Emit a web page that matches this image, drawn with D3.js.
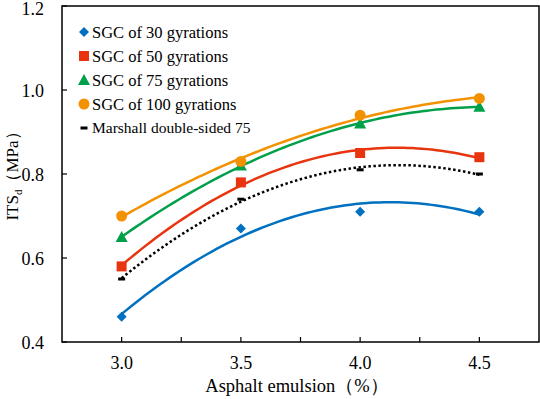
<!DOCTYPE html>
<html>
<head>
<meta charset="utf-8">
<script src="https://cdn.jsdelivr.net/npm/d3@7"></script>
<style>
  body { margin: 0; background: #fff; }
</style>
</head>
<body>
<div id="chart"></div>
<script>
const emulsion = [3.0, 3.5, 4.0, 4.5];
const sgc30 = [0.46, 0.67, 0.71, 0.71];
const sgc50 = [0.58, 0.78, 0.85, 0.84];
const sgc75 = [0.65, 0.82, 0.92, 0.96];
const sgc100 = [0.70, 0.83, 0.94, 0.98];
const marshall = [0.55, 0.74, 0.81, 0.80];
const seriesNames = ["SGC of 30 gyrations", "SGC of 50 gyrations", "SGC of 75 gyrations", "SGC of 100 gyrations", "Marshall double-sided 75"];
const xTickLabels = [3.0, 3.5, 4.0, 4.5];
const yTickLabels = [0.4, 0.6, 0.8, 1.0, 1.2];

const series = [
  { name: seriesNames[0], values: sgc30, color: "#0070c0", shape: "diamond" },
  { name: seriesNames[1], values: sgc50, color: "#e8340f", shape: "square" },
  { name: seriesNames[2], values: sgc75, color: "#00a04a", shape: "triangle" },
  { name: seriesNames[3], values: sgc100, color: "#f39200", shape: "circle" },
  { name: seriesNames[4], values: marshall, color: "#000", shape: "dash" }
];

const W = 540, H = 399;
const margin = { top: 6, right: 1, bottom: 57, left: 62 };
const width = W - margin.left - margin.right,
      height = H - margin.top - margin.bottom;

const svg = d3.select("#chart").append("svg")
  .attr("width", W).attr("height", H)
  .attr("font-family", "'Liberation Serif', 'Times New Roman', 'DejaVu Serif', serif");
const g = svg.append("g").attr("transform", `translate(${margin.left},${margin.top})`);

const x = d3.scaleLinear().domain([2.75, 4.75]).range([0, width]);
const y = d3.scaleLinear().domain([0.4, 1.2]).range([height, 0]);

// frame
g.append("rect").attr("width", width).attr("height", height)
  .attr("fill", "none").attr("stroke", "#000").attr("stroke-width", 1.5);

// x ticks (inward), labels only on the half steps
const xTicks = d3.range(3.0, 4.51, 0.25);
g.selectAll(".xt").data(xTicks).enter().append("line")
  .attr("x1", d => x(d)).attr("x2", d => x(d))
  .attr("y1", height).attr("y2", height - 5)
  .attr("stroke", "#000").attr("stroke-width", 1.2);
g.selectAll(".xl").data(xTickLabels).enter().append("text")
  .attr("x", d => x(d)).attr("y", height + 27)
  .attr("text-anchor", "middle").attr("font-size", 18)
  .text(d => d.toFixed(1));

// y ticks
g.selectAll(".yt").data(yTickLabels).enter().append("line")
  .attr("x1", 0).attr("x2", 5)
  .attr("y1", d => y(d)).attr("y2", d => y(d))
  .attr("stroke", "#000").attr("stroke-width", 1.2);
g.selectAll(".yl").data(yTickLabels).enter().append("text")
  .attr("x", -18).attr("y", d => Math.max(y(d) + 1, 3)).attr("dy", "0.35em")
  .attr("text-anchor", "end").attr("font-size", 18)
  .text(d => d.toFixed(1));

// axis titles
svg.append("text")
  .attr("x", 297).attr("y", 392)
  .attr("text-anchor", "middle").attr("font-size", 18.5)
  .text("Asphalt emulsion（%）");

const yt = svg.append("text")
  .attr("transform", "translate(18,172) rotate(-90)")
  .attr("text-anchor", "middle").attr("font-size", 17);
yt.append("tspan").text("ITS");
yt.append("tspan").attr("font-size", 11).attr("dy", 4).text("d");
yt.append("tspan").attr("dy", -4).text("（MPa）");

// quadratic least-squares trendline
function quadFit(xs, ys) {
  const n = xs.length;
  let s = [0, 0, 0, 0, 0], t = [0, 0, 0];
  for (let i = 0; i < n; i++) {
    for (let k = 0; k < 5; k++) s[k] += Math.pow(xs[i], k);
    for (let k = 0; k < 3; k++) t[k] += ys[i] * Math.pow(xs[i], k);
  }
  const A = [[s[0], s[1], s[2], t[0]], [s[1], s[2], s[3], t[1]], [s[2], s[3], s[4], t[2]]];
  for (let i = 0; i < 3; i++) {
    for (let j = i + 1; j < 3; j++) {
      const f = A[j][i] / A[i][i];
      for (let k = i; k < 4; k++) A[j][k] -= f * A[i][k];
    }
  }
  const c = [0, 0, 0];
  for (let i = 2; i >= 0; i--) {
    let v = A[i][3];
    for (let k = i + 1; k < 3; k++) v -= A[i][k] * c[k];
    c[i] = v / A[i][i];
  }
  return xv => c[0] + c[1] * xv + c[2] * xv * xv;
}

const line = d3.line().x(d => x(d[0])).y(d => y(d[1]));
const samples = d3.range(3.0, 4.5001, 0.02);

series.forEach(s => {
  const f = quadFit(emulsion, s.values);
  g.append("path")
    .datum(samples.map(v => [v, f(v)]))
    .attr("d", line)
    .attr("fill", "none")
    .attr("stroke", s.color)
    .attr("stroke-width", 2.5)
    .attr("stroke-dasharray", s.shape === "dash" ? "2.5,2.5" : null);
});

function drawMarker(sel, shape, color, cx, cy) {
  if (shape === "diamond") {
    sel.append("path").attr("d", d3.symbol(d3.symbolDiamond2, 64)())
      .attr("transform", `translate(${cx},${cy})`).attr("fill", color);
  } else if (shape === "square") {
    sel.append("rect").attr("x", cx - 5).attr("y", cy - 5)
      .attr("width", 10).attr("height", 10).attr("fill", color);
  } else if (shape === "triangle") {
    sel.append("path").attr("d", `M${cx},${cy - 6}L${cx + 6},${cy + 5}L${cx - 6},${cy + 5}Z`)
      .attr("fill", color);
  } else if (shape === "circle") {
    sel.append("circle").attr("cx", cx).attr("cy", cy).attr("r", 5.5).attr("fill", color);
  } else {
    sel.append("rect").attr("x", cx - 3.5).attr("y", cy - 1.5)
      .attr("width", 7).attr("height", 3).attr("fill", color);
  }
}

series.forEach(s => {
  s.values.forEach((v, i) => drawMarker(g, s.shape, s.color, x(emulsion[i]), y(v)));
});

// legend
const legend = svg.append("g");
series.forEach((s, i) => {
  const ly = 32 + i * 24;
  drawMarker(legend, s.shape, s.color, 84, ly);
  legend.append("text").attr("x", 92).attr("y", ly).attr("dy", "0.35em")
    .attr("font-size", s.shape === "dash" ? 15.5 : 16.5)
    .text(s.name);
});
</script>
</body>
</html>
